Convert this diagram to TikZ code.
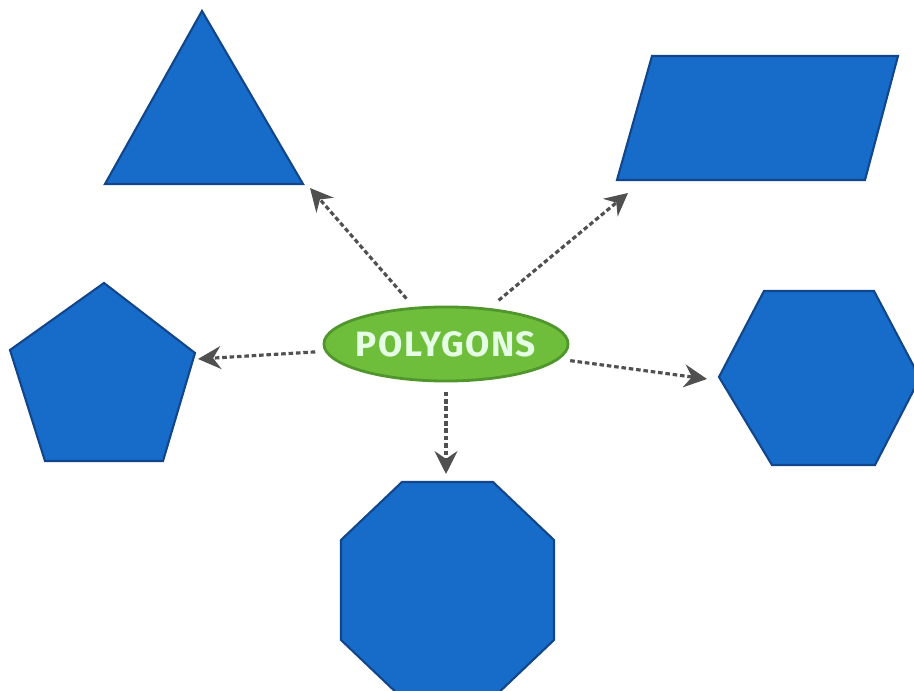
\documentclass[tikz,border=0pt]{standalone}
\usepackage{fontspec}
\newfontfamily\labelfont{Fira Sans}[LetterSpace=4]
\usetikzlibrary{shapes.geometric,arrows.meta}
\definecolor{shapeblue}{RGB}{22,108,200}
\definecolor{shapeedge}{RGB}{18,70,140}
\definecolor{polygreen}{RGB}{110,190,60}
\definecolor{greenedge}{RGB}{80,150,45}
\definecolor{arrowgray}{RGB}{80,80,80}
\tikzset{
  shapefill/.style={fill=shapeblue, draw=shapeedge, line width=0.6pt, line join=miter},
  linkarrow/.style={arrowgray, line width=0.9pt, dash pattern=on 1.3pt off 0.8pt,
    -{Stealth[length=6.5pt, width=6.5pt, inset=2.2pt]}}
}
\begin{document}
\begin{tikzpicture}[x=0.01cm, y=-0.01cm]
	\useasboundingbox (0,0) rectangle (914,691);
	\fill[white] (0,0) rectangle (914,691);
	
	% the five polygons
	\draw[shapefill] (202,11) -- (303,184) -- (105,184) -- cycle;
	\draw[shapefill] (652,56) -- (898,56) -- (865,180) -- (617,180) -- cycle;
	\draw[shapefill] (104,283) -- (195,353) -- (163,461) -- (45,461) -- (10,350) -- cycle;
	\draw[shapefill] (764,291) -- (874,291) -- (920,378) -- (875,465) -- (772,465) -- (719,377) -- cycle;
	\draw[shapefill] (402,482) -- (493,482) -- (554,540) -- (554,640) -- (493,698) -- (402,698) -- (341,640) -- (341,540) -- cycle;
	
	% centre
	\node[ellipse, fill=polygreen, draw=greenedge, line width=0.8pt, minimum width=2.44cm, minimum height=0.74cm, inner sep=0pt, outer sep=3pt,
	      label={[text=white!90!green, font=\labelfont\bfseries\fontsize{10}{12}\selectfont]center:POLYGONS}] (poly) at (446,344) {};
	
	\coordinate (tri) at (310,188);
	\coordinate (para) at (628,193);
	\coordinate (penta) at (198,359);
	\coordinate (hexa) at (707,379);
	\coordinate (octa) at (446,474);
	
	\draw[linkarrow] (poly) -- (tri);
	\draw[linkarrow] (poly) -- (para);
	\draw[linkarrow] (poly) -- (penta);
	\draw[linkarrow] (poly) -- (hexa);
	\draw[linkarrow] (poly) -- (octa);
	
	\end{tikzpicture}
\end{document}
